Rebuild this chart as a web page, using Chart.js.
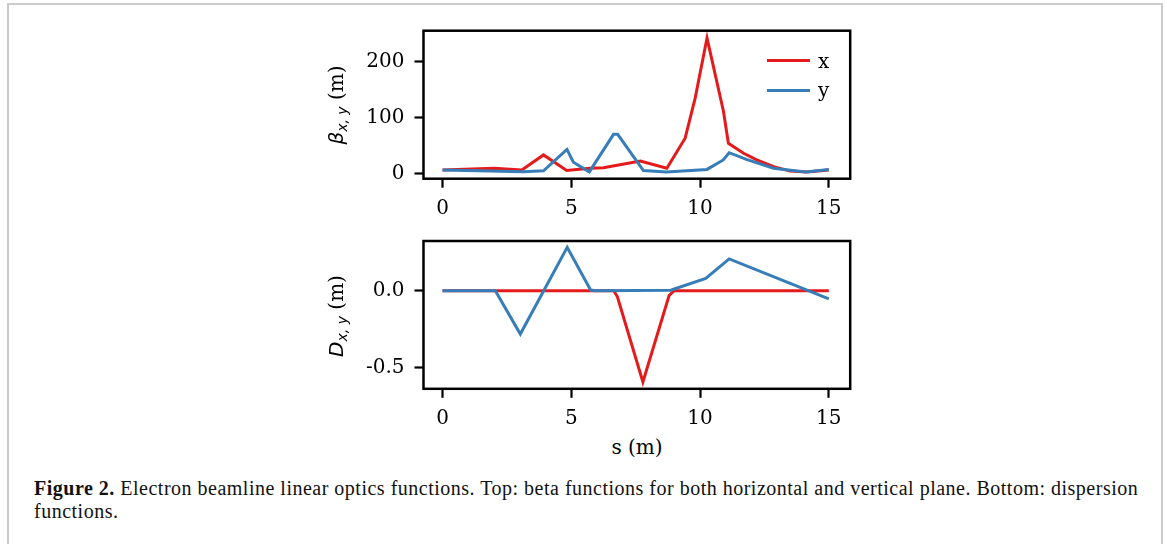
<!DOCTYPE html>
<html>
<head>
<meta charset="utf-8">
<script src="https://cdn.jsdelivr.net/npm/chart.js@4.4.1/dist/chart.umd.min.js"></script>
<style>
    body { margin: 0; width: 1167px; height: 544px; background: #fff; overflow: hidden; position: relative; font-family: 'DejaVu Serif', serif; }
    .frame { position: absolute; left: 7px; top: 3px; width: 1156px; height: 600px; box-sizing: border-box; border: 2px solid #cbcbcb; border-bottom: none; }
    .plot { position: absolute; left: 300px; }
    .ylab { position: absolute; font-size: 20px; white-space: nowrap; transform: translate(-50%, -50%) rotate(-90deg); }
    .ylab i { font-family: 'DejaVu Sans', sans-serif; }
    .ylab sub { font-family: 'DejaVu Sans', sans-serif; font-style: italic; font-size: 14px; vertical-align: -4px; }
    .xlab { position: absolute; left: 637px; top: 447px; font-size: 20px; transform: translate(-50%, -50%); white-space: nowrap; }
    .legend { position: absolute; left: 767px; top: 46px; font-size: 20px; }
    .legend-row { display: flex; align-items: center; height: 29.5px; }
    .legend-line { width: 43px; height: 3.3px; margin-right: 8px; }
    .caption { position: absolute; left: 34px; top: 477px; font-family: 'Liberation Serif', serif; font-size: 20px; letter-spacing: 0.5px; line-height: 23px; color: #111; white-space: nowrap; }
</style>
</head>
<body>
<div class="frame"></div>

<div class="plot" style="top:0px;width:600px;height:230px;">
    <canvas id="betaChart" width="600" height="230"></canvas>
</div>
<div class="plot" style="top:230px;width:600px;height:200px;">
    <canvas id="dispChart" width="600" height="200"></canvas>
</div>

<div class="ylab" style="left:337px;top:105px;"><i>β</i><sub>x, y</sub> (m)</div>
<div class="ylab" style="left:337px;top:316px;"><i>D</i><sub>x, y</sub> (m)</div>
<div class="xlab">s (m)</div>
<div class="legend" id="legend"></div>

<div class="caption"><b>Figure 2.</b> Electron beamline linear optics functions. Top: beta functions for both horizontal and vertical plane. Bottom: dispersion<br>functions.</div>

<script>
// beta functions (m) along s (m)
const sBetaX = [0, 2.0, 3.08, 3.92, 4.82, 5.73, 6.25, 7.68, 8.71, 9.42, 9.81, 10.27, 10.91, 11.1, 11.69, 12.2, 12.86, 13.5, 14.15, 15.0];
const betaX  = [6, 9, 6, 33, 5, 9, 10, 22, 9, 63, 135, 243, 111, 54, 36, 24, 12, 4, 2.5, 6];

const sBetaY = [0, 3.14, 3.92, 4.83, 5.08, 5.7, 6.64, 6.8, 7.8, 8.7, 10.27, 10.9, 11.13, 11.8, 12.85, 14.1, 15.0];
const betaY  = [6, 3, 4.5, 43, 20, 2.5, 70, 70, 5, 2.5, 7, 24, 37, 25, 9, 2.5, 7];

// dispersion functions (m)
const sDispX = [0, 6.65, 6.79, 7.78, 8.8, 9.0, 15.0];
const dispX  = [0, 0, -0.04, -0.596, -0.03, 0, 0];

const sDispY = [0, 2.05, 3.02, 4.84, 5.75, 5.94, 8.86, 10.22, 11.13, 15.0];
const dispY  = [0, 0, -0.283, 0.283, 0.004, 0, 0.003, 0.08, 0.207, -0.054];

const seriesNames = ['x', 'y'];
const seriesColors = ['#e41a1c', '#377eb8'];

const sTicks = [0, 5, 10, 15];
const betaTicks = [0, 100, 200];
const dispTicks = [-0.5, 0.0];

Chart.defaults.font.family = "'DejaVu Serif', serif";
Chart.defaults.font.size = 20;
Chart.defaults.color = '#000';

function pts(xs, ys) {
    return xs.map((x, i) => ({ x, y: ys[i] }));
}

// black box round the plot area, like matplotlib spines
const frameBox = {
    id: 'frameBox',
    afterDraw(chart) {
        const a = chart.chartArea;
        const ctx = chart.ctx;
        ctx.save();
        ctx.strokeStyle = '#000';
        ctx.lineWidth = 2.5;
        ctx.strokeRect(a.left, a.top, a.right - a.left, a.bottom - a.top);
        ctx.restore();
    }
};

function tickGrid() {
    return { drawOnChartArea: false, drawTicks: true, tickLength: 9, tickWidth: 2.2, tickColor: '#000' };
}

function noPad(s) {
    s.paddingTop = 0;
    s.paddingBottom = 0;
    s.paddingLeft = 0;
    s.paddingRight = 0;
}

function makeChart(id, sets, yMin, yMax, yTicks, yFmt, pad, xHeight) {
    return new Chart(document.getElementById(id), {
        type: 'line',
        data: {
            datasets: sets.map((d, i) => ({
                label: seriesNames[i],
                data: d,
                borderColor: seriesColors[i],
                backgroundColor: seriesColors[i],
                borderWidth: 3,
                pointRadius: 0,
                tension: 0,
                order: i === 0 ? 1 : 0   // y drawn over x
            }))
        },
        options: {
            responsive: false,
            animation: false,
            devicePixelRatio: 1,
            layout: { padding: pad },
            plugins: { legend: { display: false }, tooltip: { enabled: false } },
            scales: {
                x: {
                    type: 'linear',
                    min: -0.74,
                    max: 15.83,
                    border: { display: false },
                    grid: tickGrid(),
                    afterBuildTicks: s => { s.ticks = sTicks.map(v => ({ value: v })); },
                    afterFit: s => { s.height = xHeight; noPad(s); },
                    ticks: { padding: 9, maxRotation: 0, callback: v => String(v) }
                },
                y: {
                    type: 'linear',
                    min: yMin,
                    max: yMax,
                    border: { display: false },
                    grid: tickGrid(),
                    afterBuildTicks: s => { s.ticks = yTicks.map(v => ({ value: v })); },
                    afterFit: s => { s.width = 123.5; noPad(s); },
                    ticks: { padding: 10, callback: yFmt }
                }
            }
        },
        plugins: [frameBox]
    });
}

makeChart('betaChart',
    [pts(sBetaX, betaX), pts(sBetaY, betaY)],
    -9.7, 256.2, betaTicks, v => String(v),
    { left: 0, right: 49.8, top: 30.7, bottom: 0 }, 51.3);

makeChart('dispChart',
    [pts(sDispX, dispX), pts(sDispY, dispY)],
    -0.64, 0.324, dispTicks, v => v.toFixed(1),
    { left: 0, right: 49.8, top: 11, bottom: 0 }, 41.2);

// legend for the top panel
document.getElementById('legend').innerHTML = seriesNames.map((n, i) => `
    <div class="legend-row">
        <div class="legend-line" style="background:${seriesColors[i]}"></div>
        <span>${n}</span>
    </div>`).join('');
</script>
</body>
</html>
